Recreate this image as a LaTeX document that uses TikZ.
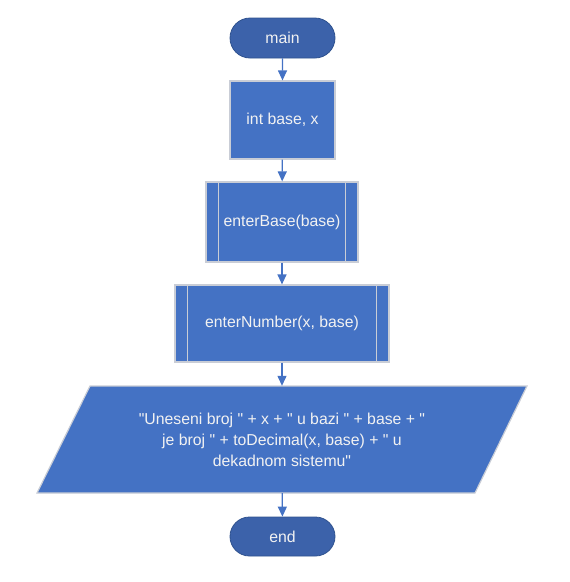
\documentclass[tikz,border=0pt]{standalone}
\usepackage{fontspec}
\newfontfamily\lib{Liberation Sans}
\usetikzlibrary{arrows.meta,shapes.misc}
\definecolor{boxblue}{HTML}{4472C4}
\definecolor{termblue}{HTML}{3C62AA}
\definecolor{termedge}{HTML}{2F528F}
\definecolor{boxedge}{HTML}{C9CDD6}
\definecolor{txt}{HTML}{F2F2F2}
\tikzset{
  base/.style={font=\lib\fontsize{15.8}{21}\selectfont, text=txt, inner sep=0pt, align=center},
  term/.style={base, rounded rectangle, fill=termblue, draw=termedge, line width=0.8pt},
  proc/.style={base, rectangle, fill=boxblue, draw=boxedge, line width=1.2pt},
  flow/.style={draw=boxblue, line width=1.2pt, -{Triangle[width=9pt,length=10pt]}}
}
\begin{document}
\begin{tikzpicture}[x=1pt,y=-1pt]
\useasboundingbox (0,0) rectangle (570,582);
\node[term, minimum width=105pt, minimum height=40pt] (main) at (282.5,38) {main};
\node[proc, minimum width=105pt, minimum height=78pt] (decl) at (282.5,120) {int base, x};
\node[proc, minimum width=152pt, minimum height=80pt] (eb) at (282,222) {enterBase(base)};
\draw[boxedge, line width=1.2pt] ([xshift=13pt]eb.north west) -- ([xshift=13pt]eb.south west)
  ([xshift=-13pt]eb.north east) -- ([xshift=-13pt]eb.south east);
\node[proc, minimum width=214pt, minimum height=77pt] (en) at (282,323.5) {enterNumber(x, base)};
\draw[boxedge, line width=1.2pt] ([xshift=13pt]en.north west) -- ([xshift=13pt]en.south west)
  ([xshift=-13pt]en.north east) -- ([xshift=-13pt]en.south east);
\fill[boxblue, draw=boxedge, line width=1.2pt] (90,386) -- (527,386) -- (475,493) -- (37,493) -- cycle;
\node[base, minimum width=300pt, minimum height=107pt] (out) at (282,439.5)
  {"Uneseni broj " + x + " u bazi " + base + "\\je broj " + toDecimal(x, base) + " u\\dekadnom sistemu"};
\node[term, minimum width=105pt, minimum height=39pt] (end) at (282.5,536.5) {end};
\draw[flow] (main) -- (decl);
\draw[flow] (decl) -- (eb);
\draw[flow] (eb) -- (en);
\draw[flow] (en) -- (out);
\draw[flow] (out) -- (end);
\end{tikzpicture}
\end{document}
